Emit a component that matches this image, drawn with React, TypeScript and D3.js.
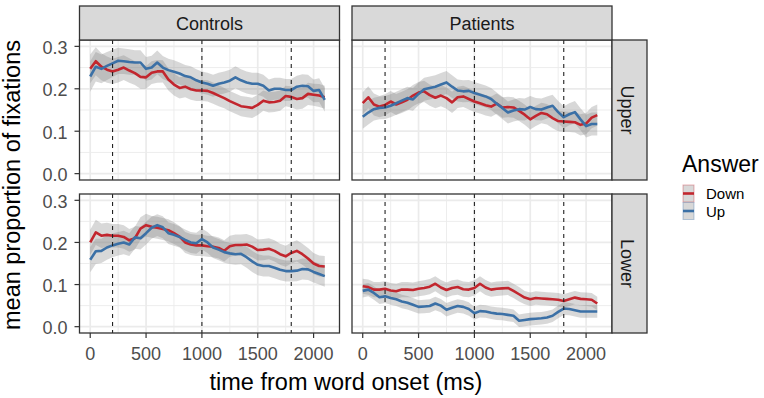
import React from 'react';
import * as d3 from 'd3';

// time bins (ms)
const times = d3.range(0, 2101, 50);

const groups = ['Controls', 'Patients'];
const positions = ['Upper', 'Lower'];
const answers = ['Down', 'Up'];
const xTicks = [0, 500, 1000, 1500, 2000];
const yTicks = [0, 0.1, 0.2, 0.3];
const markers = [200, 1000, 1800];

// Controls / Upper
const ctrlUpperDown = [0.247, 0.265, 0.252, 0.245, 0.241, 0.245, 0.25, 0.243, 0.237, 0.228, 0.227, 0.238, 0.241, 0.241, 0.222, 0.21, 0.202, 0.205, 0.199, 0.196, 0.196, 0.195, 0.19, 0.184, 0.178, 0.171, 0.165, 0.159, 0.157, 0.155, 0.162, 0.172, 0.168, 0.169, 0.172, 0.183, 0.181, 0.176, 0.178, 0.188, 0.186, 0.184, 0.18];
const ctrlUpperUp = [0.229, 0.252, 0.247, 0.254, 0.26, 0.266, 0.265, 0.263, 0.262, 0.262, 0.247, 0.25, 0.262, 0.25, 0.244, 0.24, 0.236, 0.23, 0.227, 0.22, 0.215, 0.212, 0.207, 0.212, 0.215, 0.219, 0.227, 0.22, 0.215, 0.212, 0.212, 0.207, 0.196, 0.2, 0.2, 0.197, 0.197, 0.205, 0.207, 0.206, 0.195, 0.197, 0.174];
const ctrlUpperDownSe = [0.034, 0.033, 0.032, 0.031, 0.03, 0.03, 0.029, 0.029, 0.028, 0.028, 0.027, 0.027, 0.027, 0.026, 0.026, 0.026, 0.025, 0.025, 0.025, 0.025, 0.025, 0.025, 0.025, 0.025, 0.024, 0.024, 0.024, 0.024, 0.024, 0.024, 0.024, 0.024, 0.024, 0.024, 0.024, 0.024, 0.025, 0.025, 0.025, 0.026, 0.026, 0.027, 0.027];
const ctrlUpperUpSe = [0.036, 0.035, 0.034, 0.033, 0.032, 0.031, 0.03, 0.03, 0.029, 0.029, 0.028, 0.028, 0.028, 0.027, 0.027, 0.027, 0.026, 0.026, 0.026, 0.026, 0.026, 0.026, 0.026, 0.026, 0.026, 0.026, 0.026, 0.026, 0.026, 0.026, 0.026, 0.026, 0.026, 0.026, 0.026, 0.026, 0.026, 0.026, 0.027, 0.027, 0.027, 0.028, 0.028];

// Patients / Upper
const patUpperDown = [0.166, 0.18, 0.163, 0.158, 0.162, 0.17, 0.163, 0.168, 0.174, 0.184, 0.191, 0.194, 0.185, 0.179, 0.184, 0.178, 0.168, 0.18, 0.182, 0.176, 0.17, 0.166, 0.161, 0.158, 0.165, 0.156, 0.157, 0.156, 0.148, 0.139, 0.128, 0.136, 0.143, 0.14, 0.131, 0.124, 0.123, 0.122, 0.121, 0.115, 0.118, 0.132, 0.138];
const patUpperUp = [0.134, 0.144, 0.152, 0.155, 0.156, 0.16, 0.166, 0.172, 0.178, 0.175, 0.188, 0.199, 0.202, 0.205, 0.21, 0.215, 0.205, 0.196, 0.194, 0.195, 0.19, 0.186, 0.182, 0.176, 0.165, 0.155, 0.144, 0.149, 0.152, 0.151, 0.157, 0.152, 0.151, 0.156, 0.16, 0.145, 0.133, 0.14, 0.145, 0.128, 0.112, 0.117, 0.117];
const patUpperDownSe = [0.026, 0.026, 0.026, 0.025, 0.025, 0.025, 0.025, 0.025, 0.025, 0.025, 0.025, 0.025, 0.025, 0.025, 0.025, 0.025, 0.025, 0.025, 0.025, 0.025, 0.025, 0.024, 0.024, 0.024, 0.024, 0.024, 0.024, 0.024, 0.024, 0.024, 0.024, 0.024, 0.024, 0.024, 0.024, 0.024, 0.024, 0.024, 0.024, 0.025, 0.025, 0.025, 0.025];
const patUpperUpSe = [0.028, 0.028, 0.027, 0.027, 0.027, 0.027, 0.027, 0.027, 0.027, 0.027, 0.027, 0.027, 0.027, 0.027, 0.027, 0.027, 0.027, 0.026, 0.026, 0.026, 0.026, 0.026, 0.026, 0.026, 0.026, 0.026, 0.026, 0.026, 0.026, 0.026, 0.026, 0.026, 0.026, 0.026, 0.026, 0.026, 0.026, 0.026, 0.026, 0.026, 0.027, 0.027, 0.027];

// Controls / Lower
const ctrlLowerDown = [0.2, 0.224, 0.216, 0.218, 0.216, 0.216, 0.213, 0.205, 0.21, 0.233, 0.241, 0.237, 0.235, 0.232, 0.229, 0.222, 0.214, 0.2, 0.195, 0.193, 0.193, 0.191, 0.19, 0.187, 0.18, 0.191, 0.194, 0.194, 0.195, 0.19, 0.182, 0.183, 0.185, 0.18, 0.172, 0.167, 0.175, 0.18, 0.172, 0.162, 0.15, 0.144, 0.143];
const ctrlLowerUp = [0.159, 0.179, 0.18, 0.188, 0.193, 0.197, 0.2, 0.195, 0.212, 0.21, 0.222, 0.235, 0.241, 0.236, 0.222, 0.218, 0.213, 0.206, 0.2, 0.198, 0.208, 0.2, 0.188, 0.183, 0.177, 0.174, 0.172, 0.173, 0.165, 0.155, 0.147, 0.144, 0.144, 0.14, 0.135, 0.132, 0.132, 0.133, 0.137, 0.136, 0.13, 0.125, 0.12];
const ctrlLowerDownSe = [0.03, 0.03, 0.029, 0.029, 0.028, 0.028, 0.028, 0.027, 0.027, 0.027, 0.027, 0.026, 0.026, 0.026, 0.026, 0.026, 0.025, 0.025, 0.025, 0.025, 0.025, 0.025, 0.025, 0.025, 0.025, 0.025, 0.025, 0.025, 0.025, 0.025, 0.025, 0.025, 0.025, 0.025, 0.025, 0.025, 0.025, 0.025, 0.025, 0.025, 0.025, 0.025, 0.025];
const ctrlLowerUpSe = [0.03, 0.03, 0.029, 0.029, 0.028, 0.028, 0.028, 0.027, 0.027, 0.027, 0.027, 0.026, 0.026, 0.026, 0.026, 0.026, 0.025, 0.025, 0.025, 0.025, 0.025, 0.025, 0.025, 0.025, 0.025, 0.025, 0.025, 0.025, 0.025, 0.025, 0.025, 0.025, 0.025, 0.025, 0.025, 0.025, 0.025, 0.025, 0.025, 0.025, 0.025, 0.025, 0.025];

// Patients / Lower
const patLowerDown = [0.096, 0.094, 0.088, 0.088, 0.09, 0.086, 0.084, 0.088, 0.088, 0.087, 0.09, 0.092, 0.095, 0.102, 0.093, 0.087, 0.092, 0.094, 0.089, 0.088, 0.092, 0.102, 0.093, 0.088, 0.09, 0.091, 0.092, 0.085, 0.077, 0.069, 0.065, 0.068, 0.067, 0.066, 0.065, 0.064, 0.061, 0.065, 0.069, 0.066, 0.065, 0.064, 0.055];
const patLowerUp = [0.085, 0.088, 0.08, 0.07, 0.072, 0.068, 0.065, 0.06, 0.057, 0.052, 0.047, 0.048, 0.049, 0.055, 0.05, 0.04, 0.045, 0.049, 0.047, 0.042, 0.032, 0.037, 0.036, 0.033, 0.031, 0.03, 0.028, 0.026, 0.014, 0.016, 0.018, 0.019, 0.02, 0.022, 0.026, 0.035, 0.043, 0.042, 0.039, 0.036, 0.036, 0.036, 0.036];
const patLowerDownSe = [0.018, 0.018, 0.018, 0.018, 0.018, 0.018, 0.018, 0.018, 0.018, 0.018, 0.018, 0.018, 0.018, 0.018, 0.018, 0.018, 0.018, 0.018, 0.018, 0.018, 0.018, 0.018, 0.018, 0.017, 0.017, 0.017, 0.017, 0.017, 0.017, 0.016, 0.016, 0.016, 0.016, 0.016, 0.016, 0.016, 0.016, 0.016, 0.016, 0.016, 0.016, 0.016, 0.016];
const patLowerUpSe = [0.016, 0.016, 0.016, 0.016, 0.016, 0.016, 0.016, 0.016, 0.016, 0.016, 0.016, 0.016, 0.016, 0.016, 0.016, 0.016, 0.016, 0.016, 0.016, 0.016, 0.015, 0.015, 0.015, 0.015, 0.015, 0.015, 0.015, 0.015, 0.015, 0.015, 0.015, 0.015, 0.015, 0.015, 0.015, 0.015, 0.015, 0.015, 0.015, 0.015, 0.015, 0.015, 0.015];

const series = {
  'Controls-Upper': [ctrlUpperDown, ctrlUpperDownSe, ctrlUpperUp, ctrlUpperUpSe],
  'Patients-Upper': [patUpperDown, patUpperDownSe, patUpperUp, patUpperUpSe],
  'Controls-Lower': [ctrlLowerDown, ctrlLowerDownSe, ctrlLowerUp, ctrlLowerUpSe],
  'Patients-Lower': [patLowerDown, patLowerDownSe, patLowerUp, patLowerUpSe],
};

const colors = { Down: '#C2262E', Up: '#3B70A6' };
const font = 'Liberation Sans, Arial, sans-serif';

const colBox = [[79.5, 339.5], [352, 612]];
const rowBox = [[40, 180], [194, 333]];

export default function App() {
  const width = 764;
  const height = 398;

  const panels = [];
  positions.forEach((pos, r) => {
    groups.forEach((grp, c) => {
      const [x0, x1] = colBox[c];
      const [y0, y1] = rowBox[r];
      const x = d3.scaleLinear().domain([-96, 2232]).range([x0, x1]);
      const y = d3.scaleLinear().domain([-0.015, 0.315]).range([y1, y0]);
      const [down, downSe, up, upSe] = series[`${grp}-${pos}`];
      const lines = [
        { key: 'Down', vals: down, se: downSe },
        { key: 'Up', vals: up, se: upSe },
      ].map((s) => ({
        key: s.key,
        pts: times.map((t, i) => ({ t, v: s.vals[i], se: s.se[i] })),
      }));
      const area = d3
        .area<any>()
        .x((d) => x(d.t))
        .y0((d) => y(d.v - d.se))
        .y1((d) => y(d.v + d.se));
      const line = d3
        .line<any>()
        .x((d) => x(d.t))
        .y((d) => y(d.v));
      const xMinor = [250, 750, 1250, 1750];
      const yMinor = [0.05, 0.15, 0.25];
      panels.push(
        <g key={`${grp}-${pos}`}>
          <clipPath id={`clip-${r}-${c}`}>
            <rect x={x0} y={y0} width={x1 - x0} height={y1 - y0} />
          </clipPath>
          <rect x={x0} y={y0} width={x1 - x0} height={y1 - y0} fill="#fff" />
          <g stroke="#EBEBEB">
            {xMinor.map((t) => (
              <line key={`xm${t}`} x1={x(t)} x2={x(t)} y1={y0} y2={y1} strokeWidth={0.9} />
            ))}
            {yMinor.map((t) => (
              <line key={`ym${t}`} x1={x0} x2={x1} y1={y(t)} y2={y(t)} strokeWidth={0.9} />
            ))}
            {xTicks.map((t) => (
              <line key={`xM${t}`} x1={x(t)} x2={x(t)} y1={y0} y2={y1} strokeWidth={1.7} />
            ))}
            {yTicks.map((t) => (
              <line key={`yM${t}`} x1={x0} x2={x1} y1={y(t)} y2={y(t)} strokeWidth={1.7} />
            ))}
          </g>
          <g clipPath={`url(#clip-${r}-${c})`}>
            {lines.map((s) => (
              <path key={`a${s.key}`} d={area(s.pts)} fill="#7F7F7F" fillOpacity={0.3} />
            ))}
            {lines.map((s) => (
              <path
                key={`l${s.key}`}
                d={line(s.pts)}
                fill="none"
                stroke={colors[s.key]}
                strokeWidth={2.6}
                strokeLinejoin="round"
              />
            ))}
          </g>
          {markers.map((m) => (
            <line
              key={`v${m}`}
              x1={x(m)}
              x2={x(m)}
              y1={y0}
              y2={y1}
              stroke="#222"
              strokeWidth={1.1}
              strokeDasharray="4,4"
            />
          ))}
          <rect x={x0} y={y0} width={x1 - x0} height={y1 - y0} fill="none" stroke="#333" strokeWidth={1.3} />
          {c === 0 &&
            yTicks.map((t) => (
              <g key={`yt${t}`}>
                <line x1={x0 - 5} x2={x0} y1={y(t)} y2={y(t)} stroke="#333" strokeWidth={1.2} />
                <text
                  x={x0 - 12}
                  y={y(t)}
                  dy="0.42em"
                  textAnchor="end"
                  fontSize={18}
                  fill="#4D4D4D"
                  fontFamily={font}
                >
                  {d3.format('.1f')(t)}
                </text>
              </g>
            ))}
          {r === 1 &&
            xTicks.map((t) => (
              <g key={`xt${t}`}>
                <line x1={x(t)} x2={x(t)} y1={y1} y2={y1 + 5} stroke="#333" strokeWidth={1.2} />
                <text
                  x={x(t)}
                  y={y1 + 27}
                  textAnchor="middle"
                  fontSize={18}
                  fill="#4D4D4D"
                  fontFamily={font}
                >
                  {t}
                </text>
              </g>
            ))}
        </g>
      );
    });
  });

  return (
    <svg
      width={width}
      height={height}
      style={{ position: 'absolute', left: 0, top: 0, background: '#fff' }}
    >
      <rect width={width} height={height} fill="#fff" />
      {panels}
      {groups.map((g, c) => (
        <g key={`strip-${g}`}>
          <rect
            x={colBox[c][0]}
            y={6}
            width={colBox[c][1] - colBox[c][0]}
            height={34}
            fill="#D9D9D9"
            stroke="#333"
            strokeWidth={1.3}
          />
          <text
            x={(colBox[c][0] + colBox[c][1]) / 2}
            y={30}
            textAnchor="middle"
            fontSize={18}
            fill="#1A1A1A"
            fontFamily={font}
          >
            {g}
          </text>
        </g>
      ))}
      {positions.map((p, r) => (
        <g key={`strip-${p}`}>
          <rect
            x={612}
            y={rowBox[r][0]}
            width={35}
            height={rowBox[r][1] - rowBox[r][0]}
            fill="#D9D9D9"
            stroke="#333"
            strokeWidth={1.3}
          />
          <text
            transform={`translate(627,${(rowBox[r][0] + rowBox[r][1]) / 2}) rotate(90)`}
            dy="0.35em"
            textAnchor="middle"
            fontSize={18}
            fill="#1A1A1A"
            fontFamily={font}
          >
            {p}
          </text>
        </g>
      ))}
      <text
        x={346}
        y={390}
        textAnchor="middle"
        fontSize={23.5}
        fill="#000"
        fontFamily={font}
      >
        time from word onset (ms)
      </text>
      <text
        transform="translate(20,185) rotate(-90)"
        textAnchor="middle"
        fontSize={23.5}
        fill="#000"
        fontFamily={font}
      >
        mean proportion of fixations
      </text>
      <text x={682} y={172} fontSize={23} fill="#000" fontFamily={font}>
        Answer
      </text>
      {answers.map((a, i) => (
        <g key={`leg-${a}`}>
          <rect
            x={683}
            y={185 + i * 17.5}
            width={11}
            height={17}
            fill="#7F7F7F"
            fillOpacity={0.3}
            stroke={colors[a]}
            strokeOpacity={0.35}
            strokeWidth={1}
          />
          <line
            x1={683}
            x2={694}
            y1={193.5 + i * 17.5}
            y2={193.5 + i * 17.5}
            stroke={colors[a]}
            strokeWidth={2.6}
          />
          <text x={706} y={199 + i * 17.5} fontSize={15} fill="#000" fontFamily={font}>
            {a}
          </text>
        </g>
      ))}
    </svg>
  );
}
